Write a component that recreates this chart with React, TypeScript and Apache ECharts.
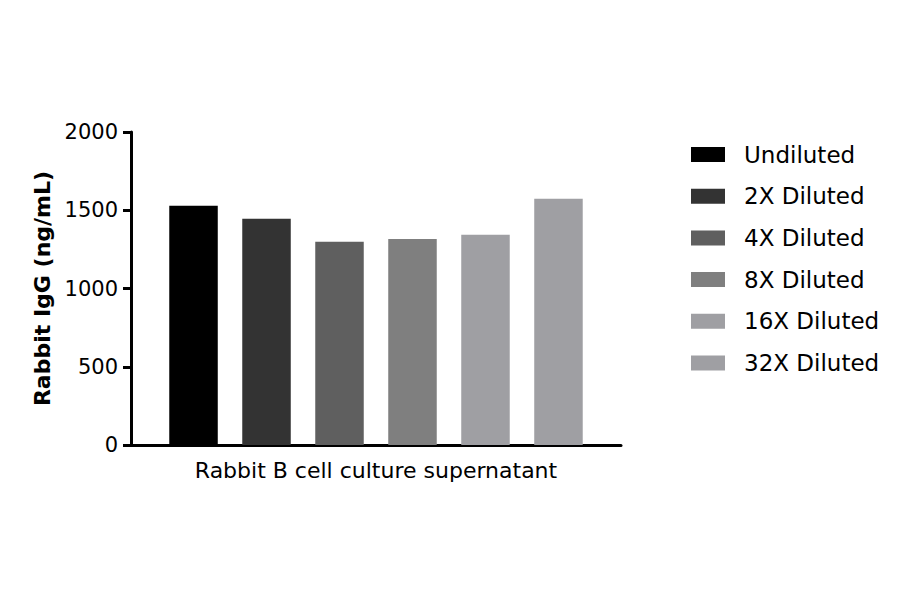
import { useEffect, useRef } from "react";
import * as echarts from "echarts";

const categories = ["Rabbit B cell culture supernatant"];
const seriesNames = [
  "Undiluted",
  "2X Diluted",
  "4X Diluted",
  "8X Diluted",
  "16X Diluted",
  "32X Diluted",
];
const seriesValues = [1528, 1445, 1298, 1317, 1343, 1573];
const seriesColors = ["#000000", "#333333", "#5f5f5f", "#7f7f7f", "#9f9fa3", "#9f9fa3"];
const yTicks = [0, 500, 1000, 1500, 2000];

const FONT = "DejaVu Sans";

export default function App() {
  const chartRef = useRef<HTMLDivElement>(null);

  useEffect(() => {
    document.body.style.margin = "0";
    if (!chartRef.current) return;
    const chart = echarts.init(chartRef.current, null, { renderer: "svg" });

    const option: echarts.EChartsOption = {
      animation: false,
      backgroundColor: "#ffffff",
      grid: {
        left: 131,
        right: 279,
        top: 132,
        bottom: 149,
        containLabel: false,
      },
      legend: {
        orient: "vertical",
        left: 691,
        top: 143,
        padding: 0,
        icon: "rect",
        itemWidth: 34,
        itemHeight: 15,
        itemGap: 18.7,
        textStyle: {
          fontFamily: FONT,
          fontSize: 23,
          lineHeight: 23,
          color: "#000000",
          padding: [0, 0, 0, 14],
        },
        data: seriesNames,
      },
      xAxis: {
        type: "category",
        data: categories,
        axisLine: { lineStyle: { color: "#000000", width: 3 } },
        axisTick: {
          alignWithLabel: true,
          length: 7,
          lineStyle: { color: "#000000", width: 3 },
        },
        axisLabel: {
          fontFamily: FONT,
          fontSize: 22,
          color: "#000000",
          margin: 14,
        },
        splitLine: { show: false },
      },
      yAxis: {
        type: "value",
        min: yTicks[0],
        max: yTicks[yTicks.length - 1],
        interval: 500,
        name: "Rabbit IgG (ng/mL)",
        nameLocation: "middle",
        nameGap: 76,
        nameTextStyle: {
          fontFamily: FONT,
          fontSize: 22,
          fontWeight: "bold",
          color: "#000000",
        },
        axisLine: { show: true, lineStyle: { color: "#000000", width: 3 } },
        axisTick: {
          show: true,
          length: 8,
          lineStyle: { color: "#000000", width: 3 },
        },
        axisLabel: {
          fontFamily: FONT,
          fontSize: 21,
          color: "#000000",
          margin: 13,
          formatter: (v: number) => String(v),
        },
        splitLine: { show: false },
      },
      series: seriesNames.map((name, i) => ({
        name,
        type: "bar",
        data: [seriesValues[i]],
        barWidth: 48.5,
        barGap: "50.5%",
        itemStyle: { color: seriesColors[i] },
      })),
    };

    chart.setOption(option);
    return () => {
      chart.dispose();
    };
  }, []);

  return <div ref={chartRef} style={{ width: 900, height: 594 }} />;
}
